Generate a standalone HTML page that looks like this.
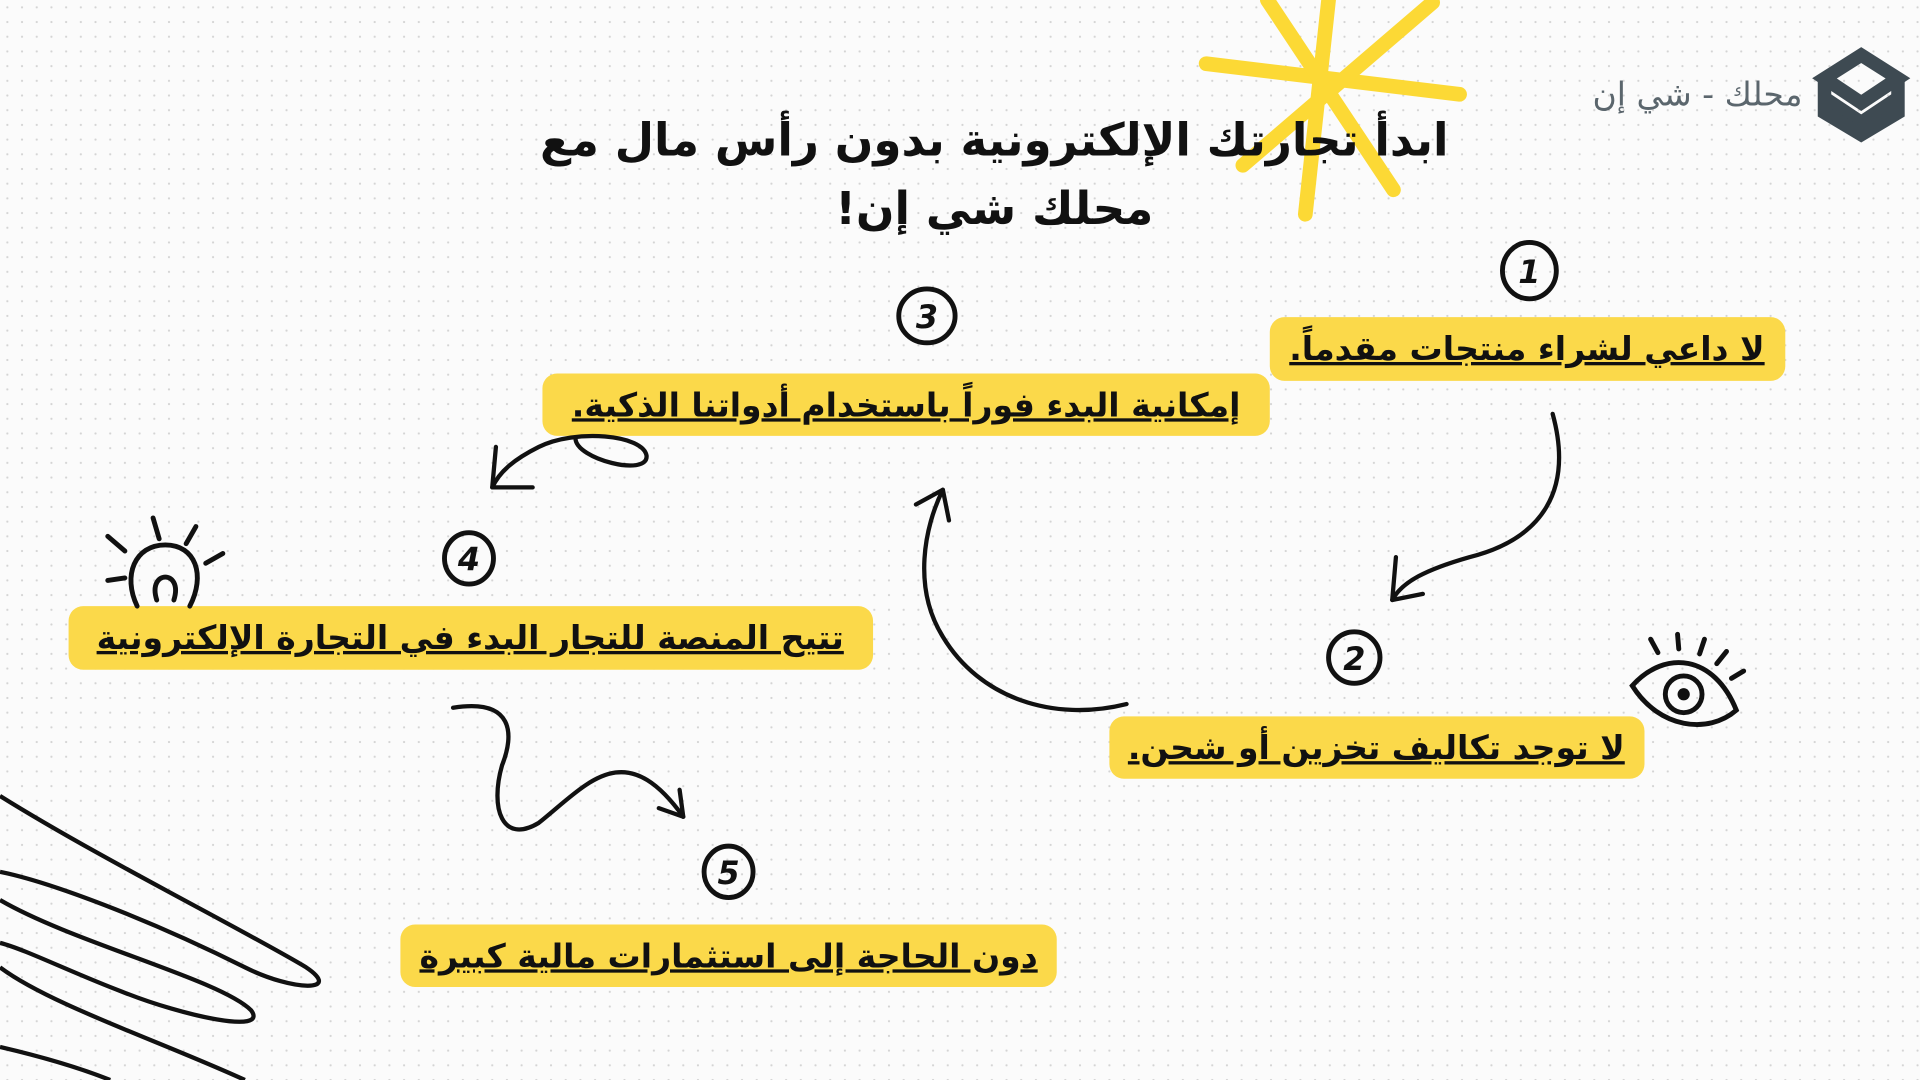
<!DOCTYPE html>
<html><head><meta charset="utf-8"><style>
html,body{margin:0;padding:0;background:#fff;width:1920px;height:1080px;overflow:hidden}
svg{display:block}
.t{font-family:"DejaVu Sans","Liberation Sans",sans-serif;font-weight:bold;direction:rtl}
</style></head><body>
<svg width="1920" height="1080" viewBox="0 0 1568 882" xmlns="http://www.w3.org/2000/svg">
<defs><pattern id="d" width="12" height="12" patternUnits="userSpaceOnUse"><circle cx="6" cy="6" r="0.9" fill="#d4d4d4"/></pattern></defs>
<rect width="1568" height="882" fill="#fbfbfb"/>
<rect width="1568" height="882" fill="url(#d)"/>
<g stroke="#fcd935" stroke-width="12" stroke-linecap="round" fill="none">
<line x1="985" y1="52" x2="1192" y2="77"/>
<line x1="1066" y1="175" x2="1085" y2="0"/>
<line x1="1035" y1="0" x2="1138" y2="155"/>
<line x1="1170" y1="2" x2="1015" y2="135"/>
</g>
<!-- logo -->
<g fill="none" stroke="#3e4a52" stroke-width="11" stroke-linejoin="miter">
<path d="M1520 45 L1550 64 L1520 84 L1490 64 Z"/>
<path d="M1490 80 L1520 100 L1550 80" />
<path d="M1490 64 L1490 92 L1520 110 L1550 92 L1550 64"/>
</g>
<text class="t" x="1472" y="86" text-anchor="start" font-size="27" fill="#5b666d" style="font-weight:normal">محلك - شي إن</text>
<text class="t" x="812" y="127" text-anchor="middle" font-size="37" fill="#111">ابدأ تجارتك الإلكترونية بدون رأس مال مع</text>
<text class="t" x="812" y="183" text-anchor="middle" font-size="37" fill="#111">محلك شي إن!</text>
<g fill="#fbd94a">
<rect x="1037" y="259" width="421" height="52" rx="12"/>
<rect x="443" y="305" width="594" height="51" rx="12"/>
<rect x="56" y="495" width="657" height="52" rx="12"/>
<rect x="906" y="585" width="437" height="51" rx="12"/>
<rect x="327" y="755" width="536" height="51" rx="12"/>
</g>
<g class="t" font-size="27" fill="#111" text-anchor="middle">
<text x="1247" y="294" text-decoration="underline">لا داعي لشراء منتجات مقدماً.</text>
<text x="740" y="340" text-decoration="underline">إمكانية البدء فوراً باستخدام أدواتنا الذكية.</text>
<text x="384" y="530" text-decoration="underline">تتيح المنصة للتجار البدء في التجارة الإلكترونية</text>
<text x="1124" y="620" text-decoration="underline">لا توجد تكاليف تخزين أو شحن.</text>
<text x="595" y="790" text-decoration="underline">دون الحاجة إلى استثمارات مالية كبيرة</text>
</g>
<g fill="none" stroke="#111" stroke-width="4">
<ellipse cx="1249" cy="221" rx="22" ry="23"/>
<ellipse cx="757" cy="258" rx="23" ry="22"/>
<ellipse cx="383" cy="456" rx="20" ry="21"/>
<ellipse cx="1106" cy="537" rx="21" ry="21"/>
<ellipse cx="595" cy="712" rx="20" ry="21"/>
</g>
<g class="t" font-size="26" fill="#111" text-anchor="middle" font-style="italic">
<text x="1249" y="231">1</text><text x="757" y="268">3</text><text x="383" y="466">4</text><text x="1106" y="547">2</text><text x="595" y="722">5</text>
</g>
<g fill="none" stroke="#111" stroke-width="3.5" stroke-linecap="round" stroke-linejoin="round">
<path d="M1268 338 C1285 400 1260 440 1200 455 C1165 465 1145 475 1137 490"/>
<path d="M1137 490 L1140 455 M1137 490 L1162 485"/>
<path d="M920 575 C860 590 800 570 770 520 C745 480 755 430 770 400"/>
<path d="M770 400 L748 412 M770 400 L775 425"/>
<path d="M470 358 C470 375 530 390 528 372 C525 355 470 350 440 365 C420 375 408 385 402 398"/>
<path d="M402 398 L405 365 M402 398 L435 398"/>
<path d="M370 578 C420 570 420 600 410 625 C400 660 410 690 440 672 C480 640 510 600 558 667"/>
<path d="M558 667 L538 660 M558 667 L555 645"/>
</g>
<g fill="none" stroke="#111" stroke-width="4" stroke-linecap="round">
<path d="M112 495 C100 470 110 445 135 445 C160 445 168 470 155 495"/>
<path d="M128 490 C120 465 150 465 142 490"/>
<line x1="88" y1="438" x2="102" y2="450"/><line x1="125" y1="423" x2="130" y2="440"/>
<line x1="160" y1="430" x2="152" y2="444"/><line x1="168" y1="460" x2="182" y2="452"/>
<line x1="88" y1="474" x2="102" y2="472"/>
</g>
<g fill="none" stroke="#111" stroke-width="4" stroke-linecap="round">
<path d="M1333 560 C1360 530 1400 535 1418 580 C1395 600 1355 595 1333 560 Z"/>
<circle cx="1375" cy="567" r="15"/>
<line x1="1348" y1="522" x2="1354" y2="533"/><line x1="1370" y1="518" x2="1371" y2="530"/>
<line x1="1392" y1="522" x2="1388" y2="534"/><line x1="1410" y1="532" x2="1402" y2="542"/>
<line x1="1424" y1="548" x2="1414" y2="554"/>
</g>
<circle cx="1375" cy="567" r="5" fill="#111"/>
<g fill="none" stroke="#111" stroke-width="3.5">
<path d="M0 650 C80 700 200 760 250 790 C280 810 240 810 200 790 C120 750 40 720 0 712"/>
<path d="M0 735 C60 770 180 800 205 825 C220 845 150 830 100 810 C60 795 20 775 0 770"/>
<path d="M0 790 C40 820 130 850 200 882"/>
<path d="M0 855 C30 862 60 870 90 882"/>
</g>
</svg>
</body></html>
